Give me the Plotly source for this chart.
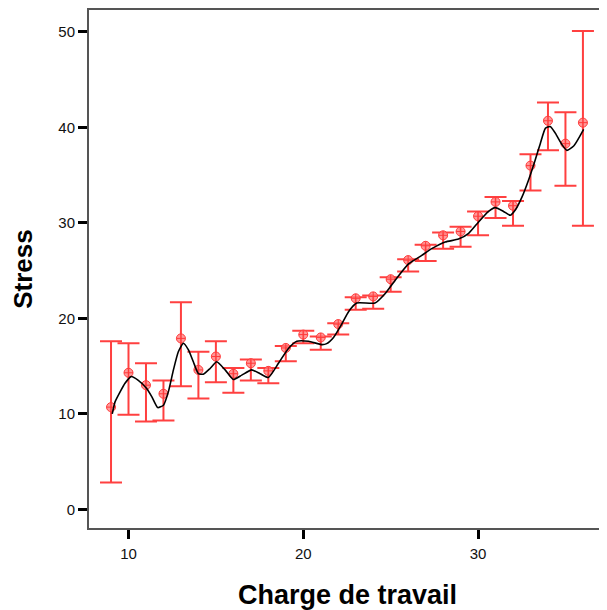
import plotly.graph_objects as go

# Data
charge = [9, 10, 11, 12, 13, 14, 15, 16, 17, 18, 19, 20, 21, 22, 23, 24, 25, 26, 27,
          28, 29, 30, 31, 32, 33, 34, 35, 36]
stress_mean = [10.7, 14.3, 13.0, 12.1, 17.9, 14.6, 16.0, 14.2, 15.3, 14.5, 16.9, 18.3,
               18.0, 19.4, 22.1, 22.3, 24.1, 26.1, 27.6, 28.7, 29.1, 30.7, 32.2, 31.8,
               36.0, 40.7, 38.3, 40.5]
ci_upper = [17.6, 17.4, 15.3, 13.5, 21.7, 16.5, 17.6, 14.8, 15.7, 14.8, 17.1, 18.7,
            18.1, 19.5, 22.2, 22.4, 24.3, 26.2, 27.7, 29.0, 29.6, 31.2, 32.7, 32.3,
            37.2, 42.6, 41.6, 50.1]
ci_lower = [2.8, 9.9, 9.2, 9.3, 12.9, 11.6, 13.3, 12.2, 13.5, 13.2, 15.5, 17.4,
            16.7, 18.3, 20.9, 21.0, 22.8, 24.9, 26.0, 27.3, 27.5, 28.7, 30.5, 29.7,
            33.4, 37.6, 33.9, 29.7]

# smoothed fit line
fit_x = [9.07, 9.23, 9.52, 9.80, 10.15, 10.56, 11.04, 11.33, 11.67, 12.0, 12.28, 12.57,
         12.85, 13.14, 13.43, 13.71, 14.0, 14.28, 14.67, 15.05, 15.53, 16.0, 16.48, 17.05,
         17.53, 18.0, 18.58, 19.15, 19.63, 20.3, 21.06, 21.34, 21.73, 22.2, 22.59, 23.06,
         24.1, 24.69, 25.26, 26.02, 26.78, 27.35, 28.12, 28.88, 29.46, 30.03, 30.6, 30.98,
         31.46, 31.84, 32.13, 32.51, 32.89, 33.27, 33.56, 33.85, 34.13, 34.42, 34.8, 35.08,
         35.47, 35.75, 36.04]
fit_y = [10.0, 11.25, 12.3, 13.2, 13.9, 13.5, 12.65, 11.8, 10.65, 10.9, 12.3, 14.6,
         16.5, 17.4, 16.7, 15.45, 14.2, 14.15, 14.75, 15.45, 14.6, 13.6, 14.05, 14.6,
         14.2, 13.8, 15.3, 16.85, 17.6, 17.6, 17.25, 17.35, 18.0, 19.4, 20.7, 21.6,
         21.6, 22.6, 24.0, 25.7, 26.6, 27.3, 28.0, 28.3, 28.9, 30.1, 31.2, 31.6,
         31.2, 30.8, 31.35, 32.7, 34.5, 36.6, 38.3, 39.9, 40.1, 39.4, 38.2, 37.6,
         38.05, 38.85, 39.8]

x_ticks = [10, 20, 30]
y_ticks = [0, 10, 20, 30, 40, 50]

err_plus = [u - m for u, m in zip(ci_upper, stress_mean)]
err_minus = [m - l for m, l in zip(stress_mean, ci_lower)]

fig = go.Figure()
fig.add_trace(go.Scatter(
    x=charge, y=stress_mean, mode="markers",
    marker=dict(symbol="circle-cross", size=9, color="rgba(255,120,120,0.75)",
                line=dict(color="#ff3a3a", width=1)),
    error_y=dict(type="data", symmetric=False, array=err_plus, arrayminus=err_minus,
                 color="#ff4040", thickness=2, width=11),
    showlegend=False, hoverinfo="skip"))
fig.add_trace(go.Scatter(
    x=fit_x, y=fit_y, mode="lines",
    line=dict(color="black", width=1.6, shape="spline", smoothing=0.5),
    showlegend=False, hoverinfo="skip"))

font_family = "Liberation Sans, Arial, sans-serif"
axis_common = dict(showgrid=False, zeroline=False, showline=True, mirror=True,
                   linecolor="#555555", linewidth=2, ticks="outside", ticklen=9,
                   tickwidth=3, tickcolor="black",
                   tickfont=dict(family=font_family, size=15, color="#111111"))

fig.update_layout(
    width=599, height=602,
    margin=dict(l=81, r=1, t=2, b=82),
    paper_bgcolor="white", plot_bgcolor="white",
    xaxis=dict(range=[7.74, 37.32], tickvals=x_ticks, ticktext=[str(v) for v in x_ticks],
               title=dict(text="Charge de travail", standoff=25,
                          font=dict(family=font_family, size=27, color="black",
                                    weight="bold")),
               ticklabelstandoff=2, automargin=False, **axis_common),
    yaxis=dict(range=[-1.96, 52.3], tickvals=y_ticks, ticktext=[str(v) for v in y_ticks],
               title=dict(text="Stress", standoff=21,
                          font=dict(family=font_family, size=26, color="black",
                                    weight="bold")),
               automargin=False, **axis_common),
)

fig.write_html("out.html")
